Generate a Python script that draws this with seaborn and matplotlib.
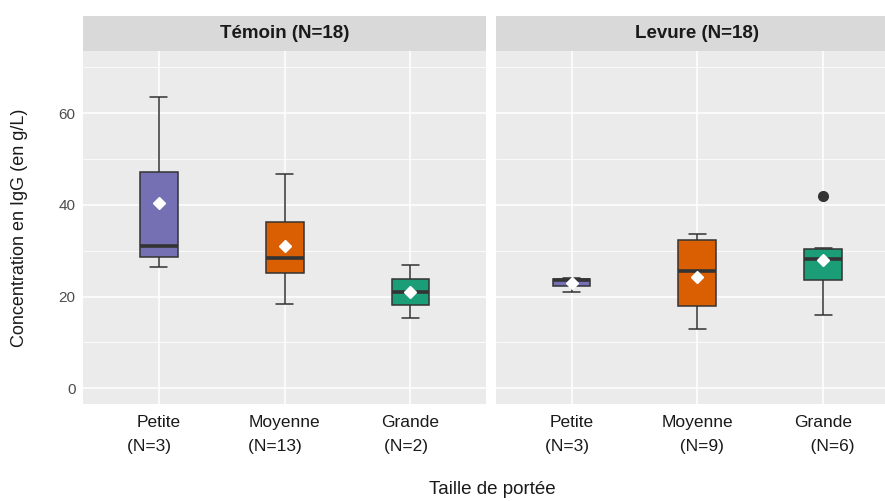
import matplotlib
matplotlib.use("Agg")
import matplotlib.pyplot as plt
import seaborn as sns
import pandas as pd

# ---- data ----
groups = ["Témoin", "Levure"]
sizes = ["Petite", "Moyenne", "Grande"]
temoin_petite = [26.5, 31.0, 63.5]
temoin_moyenne = [18.3, 21.0, 23.5, 25.2, 26.0, 27.5, 28.5, 30.0, 33.0, 36.2, 43.0, 45.3, 46.8]
temoin_grande = [15.4, 26.8]
levure_petite = [21.1, 23.7, 24.0]
levure_moyenne = [12.9, 15.2, 18.0, 20.0, 25.6, 28.0, 32.3, 33.0, 33.7]
levure_grande = [16.0, 22.7, 26.8, 29.4, 30.6, 42.0]
colors = ["#7570B3", "#D95F02", "#1B9E77"]
y_ticks = [0, 20, 40, 60]

data = {
    "Témoin": [temoin_petite, temoin_moyenne, temoin_grande],
    "Levure": [levure_petite, levure_moyenne, levure_grande],
}
rows = []
for g in groups:
    for s, vals in zip(sizes, data[g]):
        for v in vals:
            rows.append({"Groupe": g, "Taille": s, "IgG": v})
df = pd.DataFrame(rows)

sns.set_style("white")
plt.rcParams["font.family"] = ["Liberation Sans", "DejaVu Sans"]

W, H = 885, 501
fig = plt.figure(figsize=(W / 100, H / 100), dpi=100)

panel_x = [83.3, 496.0]
panel_w = 402.7
panel_top, panel_bot = 51.0, 404.3
strip_top = 15.7
box_w = 0.3
cap_w = 0.135

# label padding to mimic reference alignment
pads = {
    "Témoin": [("", "    "), ("", "    "), ("", "  ")],
    "Levure": [("", "  "), ("  ", ""), ("    ", "")],
}

for i, g in enumerate(groups):
    ax = fig.add_axes([panel_x[i] / W, 1 - panel_bot / H, panel_w / W,
                       (panel_bot - panel_top) / H])
    sub = df[df["Groupe"] == g]
    sns.boxplot(
        data=sub, x="Taille", y="IgG", hue="Taille", order=sizes,
        hue_order=sizes, palette=colors, saturation=1, width=box_w,
        linecolor="#333333", linewidth=1.1, legend=False, ax=ax, zorder=3,
        medianprops={"linewidth": 2.6, "color": "#333333"},
        flierprops={"marker": "o", "markerfacecolor": "#333333",
                    "markeredgecolor": "#333333", "markersize": 7},
        showmeans=True,
        meanprops={"marker": "D", "markerfacecolor": "white",
                   "markeredgecolor": "white", "markersize": 6.5},
    )
    # slightly narrower whisker caps (style only)
    for ln in ax.lines:
        xd, yd = list(ln.get_xdata()), list(ln.get_ydata())
        if len(xd) == 2 and yd[0] == yd[1] and abs(xd[1] - xd[0]) < box_w * 0.95 \
                and ln.get_linewidth() < 2:
            c = (xd[0] + xd[1]) / 2
            ln.set_xdata([c - cap_w / 2, c + cap_w / 2])
    ax.set_xlim(-0.6, 2.6)
    ax.set_ylim(-3.5, 73.6)
    ax.set_facecolor("#EBEBEB")
    for sp in ax.spines.values():
        sp.set_visible(False)
    ax.set_yticks(y_ticks)
    ax.set_yticks([10, 30, 50, 70], minor=True)
    ax.grid(True, which="major", color="white", linewidth=1.1, zorder=0)
    ax.grid(True, which="minor", axis="y", color="white", linewidth=0.55, zorder=0)
    ax.set_axisbelow(True)
    counts = [len(v) for v in data[g]]
    labels = [f"{s}\n{pads[g][k][0]}(N={n}){pads[g][k][1]}"
              for k, (s, n) in enumerate(zip(sizes, counts))]
    ax.set_xticks(range(3))
    ax.set_xticklabels(labels, fontsize=12.5, color="#1A1A1A", linespacing=1.75)
    ax.tick_params(axis="x", length=3.5, width=0.8, color="#333333", pad=4)
    ax.set_xlabel("")
    if i == 0:
        ax.tick_params(axis="y", length=3.5, width=0.8, color="#333333",
                       labelsize=11, labelcolor="#4D4D4D", pad=2)
        ax.set_ylabel("Concentration en IgG (en g/L)", fontsize=13,
                      color="#1A1A1A")
        ax.yaxis.set_label_coords(-0.137, 0.5)
    else:
        ax.set_ylabel("")
        ax.tick_params(axis="y", length=0, labelleft=False)

    # strip
    sax = fig.add_axes([panel_x[i] / W, 1 - panel_top / H, panel_w / W,
                        (panel_top - strip_top) / H])
    sax.set_facecolor("#D9D9D9")
    sax.set_xticks([])
    sax.set_yticks([])
    for sp in sax.spines.values():
        sp.set_visible(False)
    sax.text(0.5, 0.5, f"{g} (N={sum(counts)})", ha="center", va="center",
             fontsize=13.5, fontweight="bold", color="#1A1A1A",
             transform=sax.transAxes)

fig.text(492 / W, 1 - 490 / H, "Taille de portée", ha="center", va="center",
         fontsize=13.5, color="#1A1A1A")

fig.savefig("out.png", dpi=100)
